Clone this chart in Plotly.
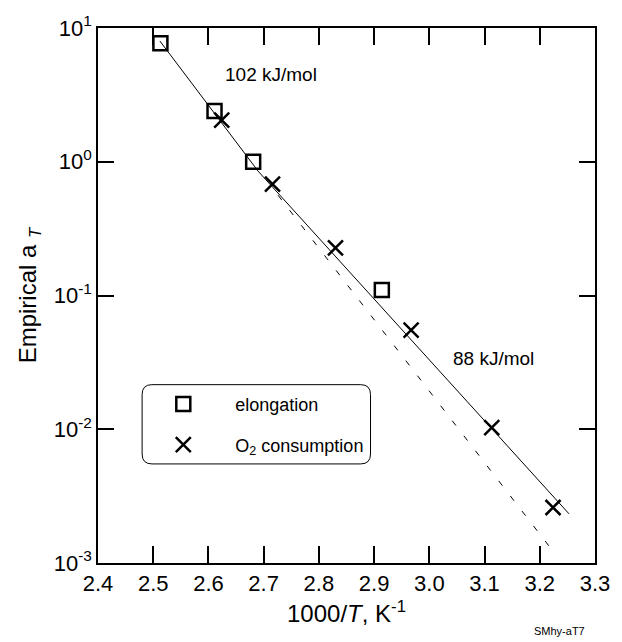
import plotly.graph_objects as go

# ---- data ----
elong_x = [2.513, 2.611, 2.681, 2.914]
elong_y = [7.7, 2.4, 1.0, 0.11]

o2_x = [2.624, 2.716, 2.830, 2.967, 3.113, 3.224]
o2_y = [2.05, 0.68, 0.227, 0.055, 0.0103, 0.0026]

# solid fitted line (102 kJ/mol upper part, 88 kJ/mol lower part)
fit_x = [2.512, 2.690, 3.253]
fit_y = [8.0, 0.85, 0.00233]

# dashed extrapolation of the 102 kJ/mol line
ext_x = [2.726, 3.227]
ext_y = [0.562, 0.00118]

ytick_vals = [1e-3, 1e-2, 1e-1, 1e0, 1e1]
ytick_text = ["10<sup>-3</sup>", "10<sup>-2</sup>", "10<sup>-1</sup>", "10<sup>0</sup>", "10<sup>1</sup>"]

FONT = "Liberation Sans"

fig = go.Figure()

fig.add_trace(go.Scatter(x=fit_x, y=fit_y, mode="lines",
                         line=dict(color="black", width=1), showlegend=False, hoverinfo="skip"))
fig.add_trace(go.Scatter(x=ext_x, y=ext_y, mode="lines",
                         line=dict(color="black", width=1, dash="6px,13px"), showlegend=False, hoverinfo="skip"))
fig.add_trace(go.Scatter(x=elong_x, y=elong_y, mode="markers", name="elongation",
                         legendgroup="a",
                         marker=dict(symbol="square-open", size=14, color="black", line=dict(width=2.5, color="black"))))
fig.add_trace(go.Scatter(x=o2_x, y=o2_y, mode="markers", name="O<sub>2</sub> consumption",
                         legendgroup="b",
                         marker=dict(symbol="x-thin-open", size=15, color="black", line=dict(width=2.5, color="black"))))

# rounded legend box in paper coords
W, H = 507.0, 540.0
x0, x1 = (143 - 98) / W, (376 - 98) / W
y1, y0 = 1 - (383 - 23) / H, 1 - (463 - 23) / H
rx, ry = 10 / W, 10 / H
path = (f"M {x0+rx},{y1} L {x1-rx},{y1} Q {x1},{y1} {x1},{y1-ry} "
        f"L {x1},{y0+ry} Q {x1},{y0} {x1-rx},{y0} L {x0+rx},{y0} "
        f"Q {x0},{y0} {x0},{y0+ry} L {x0},{y1-ry} Q {x0},{y1} {x0+rx},{y1} Z")
fig.add_shape(type="path", path=path, xref="paper", yref="paper",
              line=dict(color="black", width=1), fillcolor="rgba(0,0,0,0)")

fig.add_annotation(x=2.7126, y=0.652, xref="x", yref="y", text="102 kJ/mol", showarrow=False,
                   font=dict(size=19, family=FONT, color="black"))
fig.add_annotation(x=3.116, y=-1.474, xref="x", yref="y", text="88 kJ/mol", showarrow=False,
                   font=dict(size=19, family=FONT, color="black"))
fig.add_annotation(x=0.984, y=-0.128, xref="paper", yref="paper", text="SMhy-aT7", showarrow=False,
                   xanchor="right", yanchor="middle", font=dict(size=11, family=FONT, color="black"))

fig.update_xaxes(range=[2.4, 3.3], tickmode="linear", tick0=2.4, dtick=0.1, tickformat=".1f",
                 showline=True, linecolor="black", linewidth=1.5, mirror="ticks",
                 ticks="inside", ticklen=17, tickwidth=1.5, tickcolor="black",
                 showgrid=False, zeroline=False,
                 tickfont=dict(size=22, family=FONT, color="black"),
                 title=dict(text="1000/<i>T</i>, K<sup>-1</sup>", font=dict(size=24, family=FONT, color="black"),
                            standoff=10))
fig.update_yaxes(type="log", range=[-3, 1], tickmode="array", tickvals=ytick_vals, ticktext=ytick_text,
                 showline=True, linecolor="black", linewidth=1.5, mirror="ticks",
                 ticks="inside", ticklen=16, tickwidth=1.5, tickcolor="black",
                 showgrid=False, zeroline=False,
                 tickfont=dict(size=22, family=FONT, color="black"),
                 title=dict(text="Empirical a <sub><i>T</i></sub>", font=dict(size=24, family=FONT, color="black"),
                            standoff=10))

fig.update_layout(
    width=622, height=642,
    margin=dict(l=98, r=17, t=23, b=79),
    paper_bgcolor="white", plot_bgcolor="white",
    font=dict(family=FONT, color="black"),
    legend=dict(x=0.067, y=0.331, xanchor="left", yanchor="top",
                bgcolor="rgba(0,0,0,0)", borderwidth=0, traceorder="grouped", tracegroupgap=14,
                font=dict(size=18, family=FONT, color="black"), itemwidth=94),
)

fig.write_html("out.html")
